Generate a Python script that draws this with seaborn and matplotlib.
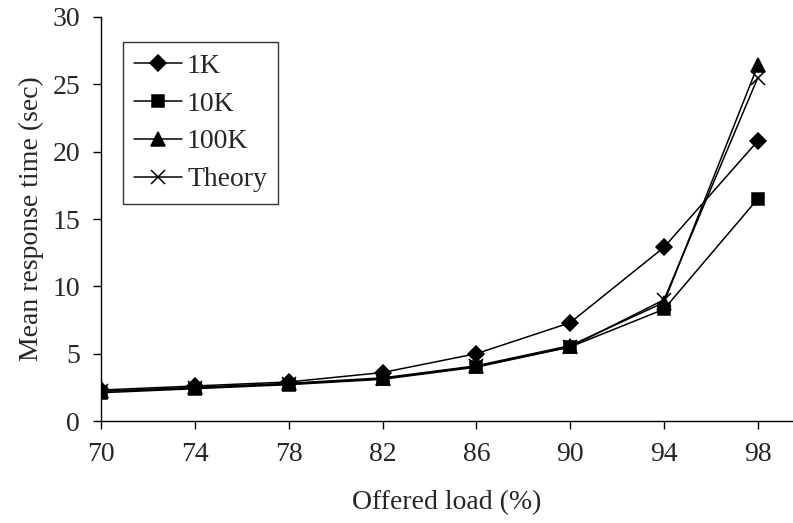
import matplotlib
matplotlib.use("Agg")
import matplotlib.pyplot as plt
import seaborn as sns
import pandas as pd

load = [70, 74, 78, 82, 86, 90, 94, 98]
r_1k = [2.3, 2.6, 2.9, 3.6, 5.0, 7.3, 12.9, 20.8]
r_10k = [2.1, 2.4, 2.7, 3.1, 4.0, 5.5, 8.3, 16.5]
r_100k = [2.2, 2.5, 2.8, 3.2, 4.1, 5.6, 8.8, 26.4]
r_theory = [2.2, 2.45, 2.75, 3.15, 4.05, 5.5, 9.0, 25.5]
series = ["1K", "10K", "100K", "Theory"]

sns.set_style("white")
plt.rcParams['font.family'] = ['Liberation Serif', 'DejaVu Serif']

rows = []
for name, vals in zip(series, [r_1k, r_10k, r_100k, r_theory]):
    for x, v in zip(load, vals):
        rows.append({"load": x, "time": v, "series": name})
df = pd.DataFrame(rows)

fig = plt.figure(figsize=(7.93, 5.23), dpi=100)
ax = fig.add_axes([0.1274, 0.195, 0.8726, 0.7725])

marker_map = {"1K": "D", "10K": "s", "100K": "^", "Theory": "x"}
size_map = {"1K": 8.5, "10K": 8.5, "100K": 9.5, "Theory": 10}
for name in series:
    sub = df[df.series == name]
    sns.lineplot(data=sub, x="load", y="time", ax=ax, color="black", lw=1.1,
                 marker=marker_map[name], markersize=size_map[name],
                 markeredgecolor="black", markerfacecolor="black",
                 markeredgewidth=1.1, label=name)

ax.set_xlim(70, 99.5)
ax.set_ylim(0, 30)
ax.set_xticks(load)
ax.set_yticks([0, 5, 10, 15, 20, 25, 30])
ax.tick_params(axis='both', direction='out', length=6, width=1, color='black',
               labelsize=20, bottom=True, left=True)
ax.tick_params(axis='x', pad=9)
ax.tick_params(axis='y', pad=9)
for s in ["top", "right"]:
    ax.spines[s].set_visible(False)
for s in ["left", "bottom"]:
    ax.spines[s].set_color("black")
    ax.spines[s].set_linewidth(1)
ax.set_xlabel("Offered load (%)", fontsize=20, labelpad=17)
ax.set_ylabel("Mean response time (sec)", fontsize=20, labelpad=6)

leg = ax.legend(loc="upper left", bbox_to_anchor=(0.032, 0.938), fontsize=20,
                frameon=True, fancybox=False, edgecolor="black",
                handlelength=1.7, borderpad=0.4, labelspacing=0.45,
                handletextpad=0.2, borderaxespad=0)
leg.get_frame().set_linewidth(1)

fig.savefig("out.png", dpi=100)
